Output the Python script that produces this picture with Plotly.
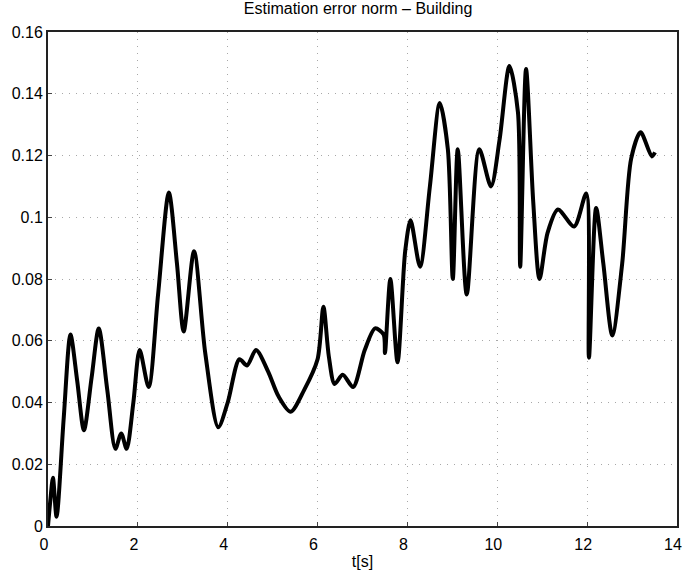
import plotly.graph_objects as go

t = [0.0, 0.05, 0.11, 0.19, 0.35, 0.50, 0.65, 0.80, 0.97, 1.13, 1.32, 1.50, 1.63, 1.75, 1.90,
     2.04, 2.24, 2.45, 2.69, 2.87, 3.02, 3.25, 3.50, 3.79, 4.00, 4.26, 4.43, 4.63, 4.90, 5.13,
     5.40, 5.70, 6.00, 6.13, 6.25, 6.38, 6.56, 6.79, 7.05, 7.28, 7.47, 7.50, 7.62, 7.78, 7.95,
     8.07, 8.28, 8.50, 8.72, 8.90, 9.01, 9.12, 9.32, 9.60, 9.86, 10.05, 10.27, 10.46, 10.51,
     10.64, 10.80, 10.94, 11.12, 11.35, 11.71, 11.98, 12.04, 12.20, 12.36, 12.56, 12.78, 12.98,
     13.19, 13.44, 13.51]
err = [0.0, 0.008, 0.0156, 0.003, 0.035, 0.062, 0.047, 0.031, 0.048, 0.064, 0.044, 0.025, 0.030,
       0.025, 0.040, 0.057, 0.045, 0.075, 0.108, 0.085, 0.063, 0.089, 0.056, 0.032, 0.040, 0.054,
       0.052, 0.057, 0.050, 0.042, 0.037, 0.044, 0.054, 0.071, 0.055, 0.046, 0.049, 0.045, 0.057,
       0.064, 0.062, 0.056, 0.080, 0.053, 0.089, 0.099, 0.084, 0.110, 0.137, 0.122, 0.080, 0.122,
       0.075, 0.122, 0.110, 0.125, 0.149, 0.134, 0.084, 0.148, 0.105, 0.080, 0.095, 0.1025, 0.097,
       0.1077, 0.0545, 0.103, 0.085, 0.0617, 0.085, 0.119, 0.1275, 0.1197, 0.121]

x_ticks = [0, 2, 4, 6, 8, 10, 12, 14]
x_labels = ["0", "2", "4", "6", "8", "10", "12", "14"]
y_ticks = [0, 0.02, 0.04, 0.06, 0.08, 0.1, 0.12, 0.14, 0.16]
y_labels = ["0", "0.02", "0.04", "0.06", "0.08", "0.1", "0.12", "0.14", "0.16"]

FONT = "Liberation Sans, Arial, Helvetica"

fig = go.Figure()
fig.add_trace(go.Scatter(x=t, y=err, mode="lines",
                         line=dict(color="black", width=4, shape="spline", smoothing=0.8),
                         showlegend=False, hoverinfo="skip"))

axis_common = dict(showline=True, linecolor="#222222", linewidth=2, mirror=True,
                   showgrid=True, gridcolor="#a8a8a8", griddash="1px,6px", gridwidth=1,
                   zeroline=False, ticks="inside", ticklen=4, tickcolor="#444444",
                   automargin=False, ticklabeloverflow="allow",
                   tickfont=dict(family=FONT, size=16, color="black"))

fig.update_xaxes(range=[0, 14], tickvals=x_ticks, ticktext=x_labels,
                 ticklabelshift=-4, ticklabelstandoff=3,
                 title=dict(text="t[s]", font=dict(family=FONT, size=16, color="black"),
                            standoff=4),
                 **axis_common)
fig.update_yaxes(range=[0, 0.16], tickvals=y_ticks, ticktext=y_labels, **axis_common)

fig.update_layout(
    width=682, height=576,
    margin=dict(l=48, r=5, t=32, b=50, autoexpand=False),
    paper_bgcolor="white", plot_bgcolor="white",
    title=dict(text="Estimation error norm – Building", xref="container", x=0.525,
               xanchor="center", yref="container", y=0.995, yanchor="top",
               font=dict(family=FONT, size=16, color="black")),
)

fig.write_html("out.html", config={"displayModeBar": False},
               post_script="document.body.style.margin='0px';")
